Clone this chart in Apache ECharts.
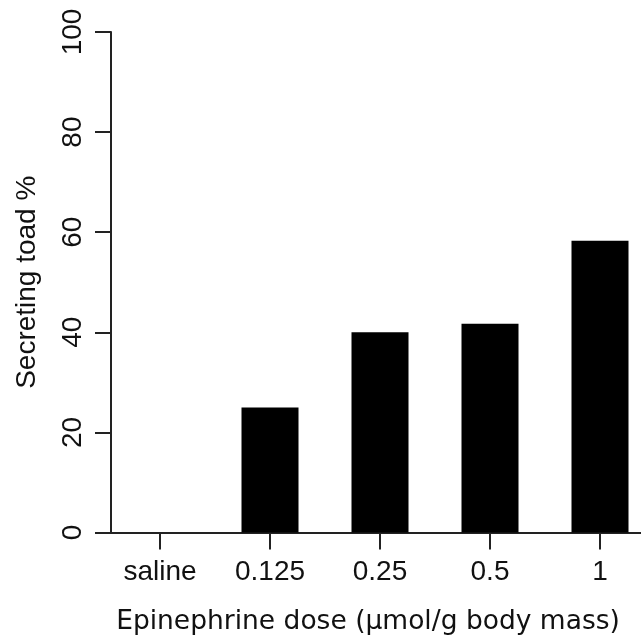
<!DOCTYPE html>
<html>
<head>
<meta charset="utf-8">
<script src="https://cdn.jsdelivr.net/npm/echarts@6/dist/echarts.min.js"></script>
<style>
html,body{margin:0;padding:0;background:#fff;}
#chart{width:641px;height:638px;}
</style>
</head>
<body>
<div id="chart"></div>
<script>
const categories = ["saline", "0.125", "0.25", "0.5", "1"];
const secretingPct = [0, 25, 40, 41.7, 58.3];
const yTicks = [0, 20, 40, 60, 80, 100];
const xTitle = "Epinephrine dose (\u00b5mol/g body mass)";
const yTitle = "Secreting toad %";

const chart = echarts.init(document.getElementById('chart'), null, {renderer: 'canvas'});
const lineColor = '#222';
chart.setOption({
  animation: false,
  backgroundColor: '#fff',
  grid: {left: 105, top: 32, width: 550, height: 500.5, containLabel: false, outerBoundsMode: 'none'},
  xAxis: {
    type: 'category',
    data: categories,
    boundaryGap: true,
    axisLine: {show: true, lineStyle: {color: lineColor, width: 2}},
    axisTick: {show: true, alignWithLabel: true, length: 17, lineStyle: {color: lineColor, width: 2}},
    axisLabel: {color: '#111', fontSize: 28, fontFamily: 'Liberation Sans', margin: 26},
    name: xTitle,
    nameLocation: 'middle',
    nameGap: 76,
    nameTextStyle: {color: '#111', fontSize: 26.5, fontFamily: 'DejaVu Sans', padding: [0, 24, 0, 0]}
  },
  yAxis: {
    type: 'value',
    min: yTicks[0],
    max: yTicks[yTicks.length - 1],
    interval: yTicks[1] - yTicks[0],
    offset: -6,
    splitLine: {show: false},
    axisLine: {show: true, lineStyle: {color: lineColor, width: 2}},
    axisTick: {show: true, length: 16, lineStyle: {color: lineColor, width: 2}},
    axisLabel: {color: '#111', fontSize: 28, fontFamily: 'Liberation Sans', rotate: 90, margin: 24},
    name: yTitle,
    nameLocation: 'middle',
    nameRotate: 90,
    nameGap: 70,
    nameTextStyle: {color: '#111', fontSize: 28, fontFamily: 'Liberation Sans'}
  },
  series: [{
    type: 'bar',
    data: secretingPct,
    barWidth: 57,
    itemStyle: {color: '#000'}
  }]
});
</script>
</body>
</html>
